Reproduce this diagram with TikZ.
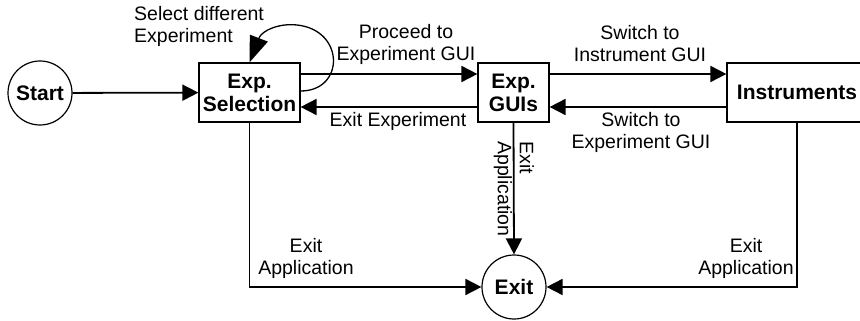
\documentclass[tikz,border=0pt]{standalone}
\usepackage{fontspec}
\setmainfont{Liberation Sans}
\usetikzlibrary{arrows.meta}
\begin{document}
\begin{tikzpicture}[x=1pt,y=-1pt,
  conn/.style={line width=1.8pt,-{Triangle[length=16pt,width=16pt]}},
  loopconn/.style={line width=1.3pt,-{Triangle[length=26pt,width=19pt]}},
  boxnode/.style={draw,line width=1.2pt,minimum height=59pt,inner sep=0pt,
    font=\fontsize{21}{23}\selectfont\bfseries,align=center},
  term/.style={circle,draw,line width=1.2pt,minimum size=64pt,inner sep=0pt,
    font=\fontsize{21}{23}\selectfont\bfseries},
  lbl/.style={inner sep=0pt,font=\fontsize{19.5}{22}\selectfont,align=center}]
\useasboundingbox (0,0) rectangle (860,321);

% states
\node[term] (start) at (40,93) {Start};
\node[boxnode,minimum width=101pt] (sel) at (249.5,92.5) {Exp.\\Selection};
\node[boxnode,minimum width=71pt] (gui) at (513.5,92.5) {Exp.\\GUIs};
\node[boxnode,minimum width=140pt] (ins) at (797,92.5) {Instruments};
\node[term] (exit) at (514,287) {Exit};

% transitions
\draw[conn] (start) -- (sel);
\draw[conn] ([yshift=18.5pt]sel.east) -- ([yshift=18.5pt]gui.west);
\draw[conn] ([yshift=-14.5pt]gui.west) -- ([yshift=-14.5pt]sel.east);
\draw[conn] ([yshift=18.5pt]gui.east) -- ([yshift=18.5pt]ins.west);
\draw[conn] ([yshift=-14.5pt]ins.west) -- ([yshift=-14.5pt]gui.east);
\draw[loopconn] ([yshift=1.5pt]sel.east) .. controls (345,91) and (345,30) .. (297,25)
  .. controls (280,23) and (262,30) .. (sel.north);
\draw[conn] (sel.south) |- (exit.west);
\draw[conn] (ins.south) |- (exit.east);
\draw[conn] (gui.south) -- (exit.north);

% labels
\node[lbl,align=left,anchor=west] (lsel) at (134,26) {Select different\\Experiment};
\node[lbl] (lproc) at (406,44) {Proceed to\\Experiment GUI};
\node[lbl] (lexp) at (398,121) {Exit Experiment};
\node[lbl] (lsw1) at (640,44) {Switch to\\Instrument GUI};
\node[lbl] (lsw2) at (641,132) {Switch to\\Experiment GUI};
\node[lbl] (lexl) at (306,258) {Exit\\Application};
\node[lbl] (lexr) at (746,258) {Exit\\Application};
\node[lbl,align=left,rotate=-90] (lexm) at (514,189) {Exit\\Application};
\end{tikzpicture}
\end{document}
